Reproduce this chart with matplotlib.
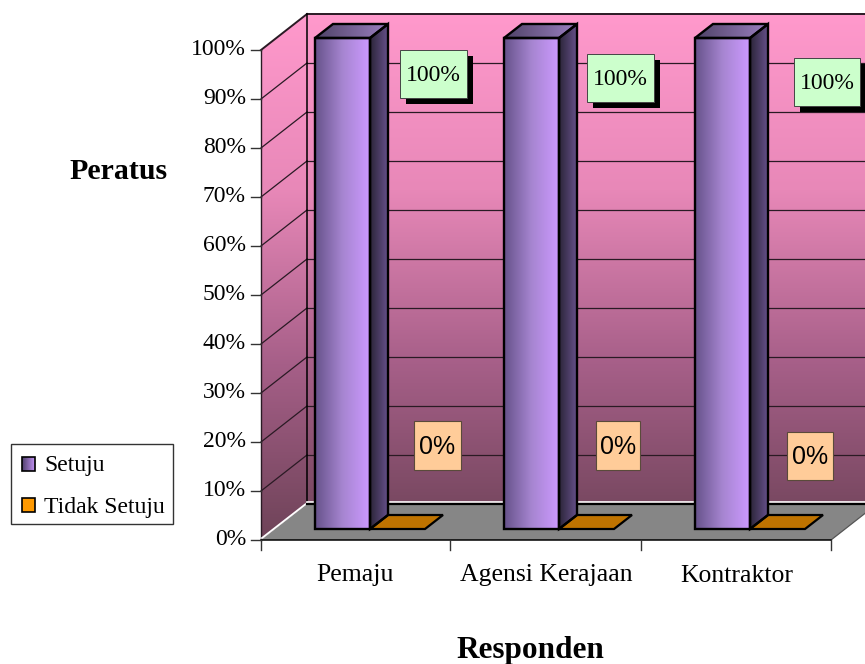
import matplotlib
matplotlib.use("Agg")
import matplotlib.pyplot as plt
import numpy as np
from matplotlib.colors import LinearSegmentedColormap
from matplotlib.patches import Polygon, Rectangle

categories = ["Pemaju", "Agensi Kerajaan", "Kontraktor"]
setuju = [100, 100, 100]
tidak_setuju = [0, 0, 0]
y_ticks = [0, 10, 20, 30, 40, 50, 60, 70, 80, 90, 100]
series_names = ["Setuju", "Tidak Setuju"]

SERIF = "Liberation Serif"
SANS = "Liberation Sans"

# pixel layout of the pseudo-3D box
X0, X1 = 261, 831
Y_ZERO, Y_FULL = 540, 50
DX, DY = 46, -36
BAR_W = 55
BAR_DX, BAR_DY = 18, -14
BAR_LEFT = [315, 504, 695]
BAR_BASE = 529
CAT_TICKS = [261, 450, 641, 831]
CAT_LABEL_X = [355, 546, 737]
GREEN_BOXES = [(400, 50, 67, 48), (587, 54, 67, 48), (794, 58, 66, 48)]
ORANGE_BOXES = [(414, 421, 47, 49), (596, 421, 44, 49), (787, 432, 46, 48)]


def val_y(v):
    return Y_ZERO - (Y_ZERO - Y_FULL) * v / 100.0


def bar_h(v):
    return (Y_ZERO - Y_FULL) * v / 100.0


def grad_poly(ax, pts, colors, horizontal=True, extent=None, z=1):
    """Fill a polygon with a linear gradient by clipping an image to it."""
    cmap = LinearSegmentedColormap.from_list("g", colors)
    ramp = np.linspace(0, 1, 256)
    ramp = ramp.reshape(1, -1) if horizontal else ramp.reshape(-1, 1)
    xs = [p[0] for p in pts]
    ys = [p[1] for p in pts]
    if extent is None:
        extent = (min(xs), max(xs), max(ys), min(ys))
    im = ax.imshow(ramp, cmap=cmap, extent=extent, aspect="auto", zorder=z,
                   interpolation="bilinear")
    clip = Polygon(pts, closed=True, transform=ax.transData)
    im.set_clip_path(clip)
    return im


fig = plt.figure(figsize=(8.65, 6.64), dpi=100)
ax = fig.add_axes([0, 0, 1, 1])
ax.set_xlim(0, 865)
ax.set_ylim(664, 0)
ax.axis("off")

wall_colors = ["#FF99CC", "#E888B8", "#A65F88", "#6E4358"]
wall_extent = (X0, 865, Y_ZERO, Y_FULL + DY)

# back wall and side wall
back = [(X0 + DX, val_y(100) + DY), (865, val_y(100) + DY),
        (865, val_y(0) + DY), (X0 + DX, val_y(0) + DY)]
side = [(X0, val_y(100)), (X0 + DX, val_y(100) + DY),
        (X0 + DX, val_y(0) + DY), (X0, val_y(0))]
grad_poly(ax, back, wall_colors, horizontal=False, extent=wall_extent)
grad_poly(ax, side, wall_colors, horizontal=False, extent=wall_extent)

# floor
floor = [(X0, Y_ZERO), (X1, Y_ZERO), (X1 + DX, Y_ZERO + DY), (X0 + DX, Y_ZERO + DY)]
ax.add_patch(Polygon(floor, closed=True, fc="#868686", ec="none", zorder=2))

# gridlines on both walls
for v in y_ticks[1:]:
    y = val_y(v)
    lw = 1.4 if v == 100 else 0.9
    ax.plot([X0, X0 + DX], [y, y + DY], color="#2a1a24", lw=lw, zorder=3)
    ax.plot([X0 + DX, 865], [y + DY, y + DY], color="#2a1a24", lw=lw, zorder=3)
ax.plot([X0 + DX, X0 + DX], [val_y(0) + DY, val_y(100) + DY], color="black", lw=1.1, zorder=3)
ax.plot([X0, X0], [val_y(0), val_y(100)], color="#2a1a24", lw=1.0, zorder=3)

# floor edges
ax.plot([X0 + 1, X0 + DX], [Y_ZERO - 2, Y_ZERO + DY - 1], color="white", lw=1.3, zorder=3)
ax.plot([X0 + DX, 865], [Y_ZERO + DY - 2.2, Y_ZERO + DY - 2.2], color="white", lw=1.2, zorder=3)
ax.plot([X0 + DX, 865], [Y_ZERO + DY, Y_ZERO + DY], color="black", lw=1.6, zorder=3)
ax.plot([X1, X1 + DX], [Y_ZERO, Y_ZERO + DY], color="#555555", lw=0.9, zorder=3)

# axes lines and ticks
ax.plot([X0, X1], [Y_ZERO, Y_ZERO], color="black", lw=1.1, zorder=4)
for v in y_ticks:
    y = val_y(v)
    ax.plot([X0 - 10, X0], [y, y], color="#333333", lw=1.0, zorder=4)
    ax.text(X0 - 15, y - 0.5, f"{v}%", ha="right", va="center", family=SERIF, fontsize=17, color="black")
for x in CAT_TICKS:
    ax.plot([x, x], [Y_ZERO, Y_ZERO + 10], color="#333333", lw=1.0, zorder=4)
for x, name in zip(CAT_LABEL_X, categories):
    ax.text(x, 575.5, name, ha="center", va="center", family=SERIF, fontsize=18.5, color="black")

# bars
for left, a, b in zip(BAR_LEFT, setuju, tidak_setuju):
    right = left + BAR_W
    top = BAR_BASE - bar_h(a) - 1
    front = [(left, BAR_BASE), (right, BAR_BASE), (right, top), (left, top)]
    rside = [(right, BAR_BASE), (right + BAR_DX, BAR_BASE + BAR_DY),
             (right + BAR_DX, top + BAR_DY), (right, top)]
    lid = [(left, top), (right, top), (right + BAR_DX, top + BAR_DY), (left + BAR_DX, top + BAR_DY)]
    grad_poly(ax, front, ["#66528A", "#A685D0", "#CC99FF"], z=5)
    grad_poly(ax, rside, ["#2B2538", "#66508A"], z=5)
    grad_poly(ax, lid, ["#4F4266", "#9A7FC0"], z=5)
    for pts in (front, rside, lid):
        ax.add_patch(Polygon(pts, closed=True, fc="none", ec="black", lw=1.7, zorder=6))

    # flat bar for the second series, its height comes from the value
    o_top = BAR_BASE - bar_h(b)
    base = [(right, o_top), (right + BAR_W, o_top),
            (right + BAR_W + BAR_DX, o_top + BAR_DY), (right + BAR_DX, o_top + BAR_DY)]
    ax.add_patch(Polygon(base, closed=True, fc="#BF7300", ec="black", lw=1.6, zorder=5))

# value labels
for (x, y, w, h), v in zip(GREEN_BOXES, setuju):
    ax.add_patch(Rectangle((x + 6, y + 6), w, h, fc="black", ec="none", zorder=7))
    ax.add_patch(Rectangle((x, y), w, h, fc="#CCFFCC", ec="#444444", lw=0.7, zorder=8))
    ax.text(x + w / 2, y + h / 2 + 1.5, f"{v}%", ha="center", va="center", family=SERIF,
            fontsize=17, color="black", zorder=9)
for (x, y, w, h), v in zip(ORANGE_BOXES, tidak_setuju):
    ax.add_patch(Rectangle((x, y), w, h, fc="#FFCC99", ec="#5a4a3a", lw=0.8, zorder=8))
    ax.text(x + w / 2, y + h / 2 + 1, f"{v}%", ha="center", va="center", family=SANS,
            fontsize=18, color="black", zorder=9)

# axis titles
ax.text(119, 171.5, "Peratus", ha="center", va="center", family=SERIF, fontsize=21.5,
        fontweight="bold", color="black")
ax.text(530, 650.5, "Responden", ha="center", va="center", family=SERIF, fontsize=22.5,
        fontweight="bold", color="black")

# legend
ax.add_patch(Rectangle((11, 444), 162, 79.5, fc="white", ec="#333333", lw=1.0, zorder=8))
swatch_a = [(21.5, 471), (35, 471), (35, 456.5), (21.5, 456.5)]
grad_poly(ax, swatch_a, ["#4E3F6A", "#CC99FF"], z=9)
ax.add_patch(Polygon(swatch_a, closed=True, fc="none", ec="black", lw=1.2, zorder=10))
ax.add_patch(Rectangle((21.5, 498), 13.5, 14, fc="#FF9900", ec="black", lw=1.2, zorder=9))
ax.text(44, 465.5, series_names[0], ha="left", va="center", family=SERIF, fontsize=17, zorder=10)
ax.text(44, 507, series_names[1], ha="left", va="center", family=SERIF, fontsize=17, zorder=10)

ax.set_xlim(0, 865)
ax.set_ylim(664, 0)
fig.savefig("out.png", dpi=100)
plt.close(fig)
